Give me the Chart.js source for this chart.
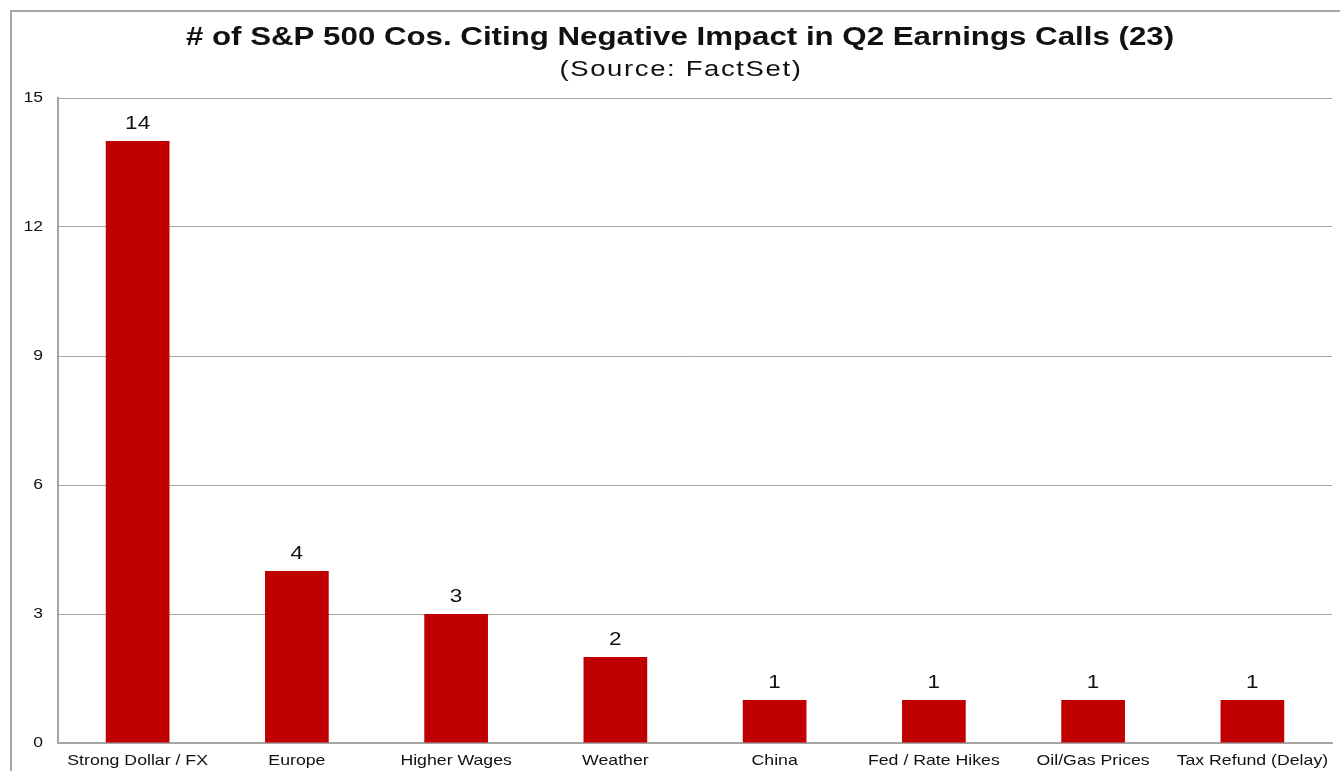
<!DOCTYPE html>
<html>
<head>
<meta charset="utf-8">
<script src="https://cdn.jsdelivr.net/npm/chart.js@4"></script>
<style>
html,body{margin:0;padding:0;background:#fff;}
#wrap{position:absolute;left:0;top:0;width:1340px;height:771px;}
</style>
</head>
<body>
<div id="wrap"><canvas id="c" width="1340" height="771"></canvas></div>
<script>
const categories = ["Strong Dollar / FX","Europe","Higher Wages","Weather","China","Fed / Rate Hikes","Oil/Gas Prices","Tax Refund (Delay)"];
const counts = [14,4,3,2,1,1,1,1];
const yTicks = [0,3,6,9,12,15];
const titleText = "# of S&P 500 Cos. Citing Negative Impact in Q2 Earnings Calls (23)";
const subtitleText = "(Source: FactSet)";

const FONT = "'Liberation Sans', Arial, sans-serif";

// draw horizontally stretched text (the reference rendering is widened)
function wideText(ctx, text, x, y, font, sx, align, baseline, spacing) {
  ctx.save();
  ctx.font = font;
  ctx.fillStyle = '#111';
  ctx.textAlign = align;
  ctx.textBaseline = baseline;
  if (spacing) ctx.letterSpacing = spacing + 'px';
  ctx.translate(x, y);
  ctx.scale(sx, 1);
  ctx.fillText(text, 0, 0);
  ctx.restore();
}

const frame = {
  id: 'frame',
  beforeDraw(chart) {
    const ctx = chart.ctx;
    ctx.save();
    ctx.fillStyle = '#fff';
    ctx.fillRect(0,0,chart.width,chart.height);
    ctx.strokeStyle = '#a6a6a6';
    ctx.lineWidth = 2;
    ctx.strokeRect(11, 11, 1340, 800);
    ctx.restore();
  }
};

const textLayer = {
  id: 'textLayer',
  afterDraw(chart) {
    const ctx = chart.ctx;
    const cx = chart.width / 2 + 10;
    wideText(ctx, titleText, cx, 45, "bold 25px " + FONT, 1.25, 'center', 'alphabetic', 0);
    wideText(ctx, subtitleText, cx + 1, 76, "22px " + FONT, 1.25, 'center', 'alphabetic', 1.3);

    const xs = chart.scales.x, ys = chart.scales.y;
    categories.forEach((c, i) => {
      wideText(ctx, c, xs.getPixelForValue(i), 765, "15px " + FONT, 1.18, 'center', 'alphabetic', 0);
    });
    yTicks.forEach(v => {
      wideText(ctx, String(v), ys.left + ys.width - 15, ys.getPixelForValue(v), "14px " + FONT, 1.25, 'right', 'middle', 0);
    });
    const meta = chart.getDatasetMeta(0);
    meta.data.forEach((bar, i) => {
      wideText(ctx, String(counts[i]), bar.x, bar.y - 12, "18px " + FONT, 1.25, 'center', 'alphabetic', 0);
    });
  }
};

new Chart(document.getElementById('c'), {
  type: 'bar',
  data: {
    labels: categories,
    datasets: [{
      data: counts,
      backgroundColor: '#C00000',
      borderWidth: 0,
      categoryPercentage: 1.0,
      barPercentage: 0.4
    }]
  },
  options: {
    responsive: false,
    animation: false,
    devicePixelRatio: 1,
    layout: { padding: { left: 28, right: 8, top: 98, bottom: 0 } },
    plugins: {
      legend: { display: false },
      tooltip: { enabled: false },
      title: { display: false }
    },
    scales: {
      x: {
        grid: { display: false, drawTicks: false },
        border: { display: true, color: '#a6a6a6', width: 2 },
        ticks: {
          color: 'rgba(0,0,0,0)',
          font: { family: FONT, size: 14 },
          padding: 9,
          maxRotation: 0,
          autoSkip: false
        },
        afterFit(s) { s.height = 28; }
      },
      y: {
        min: 0, max: 15,
        afterBuildTicks(s) { s.ticks = yTicks.map(v => ({ value: v })); },
        grid: { color: '#a6a6a6', lineWidth: 1, drawTicks: false },
        border: { display: true, color: '#a6a6a6', width: 2 },
        ticks: {
          color: 'rgba(0,0,0,0)',
          font: { family: FONT, size: 14 },
          padding: 15
        },
        afterFit(s) { s.width = 30; }
      }
    }
  },
  plugins: [frame, textLayer]
});
</script>
</body>
</html>
